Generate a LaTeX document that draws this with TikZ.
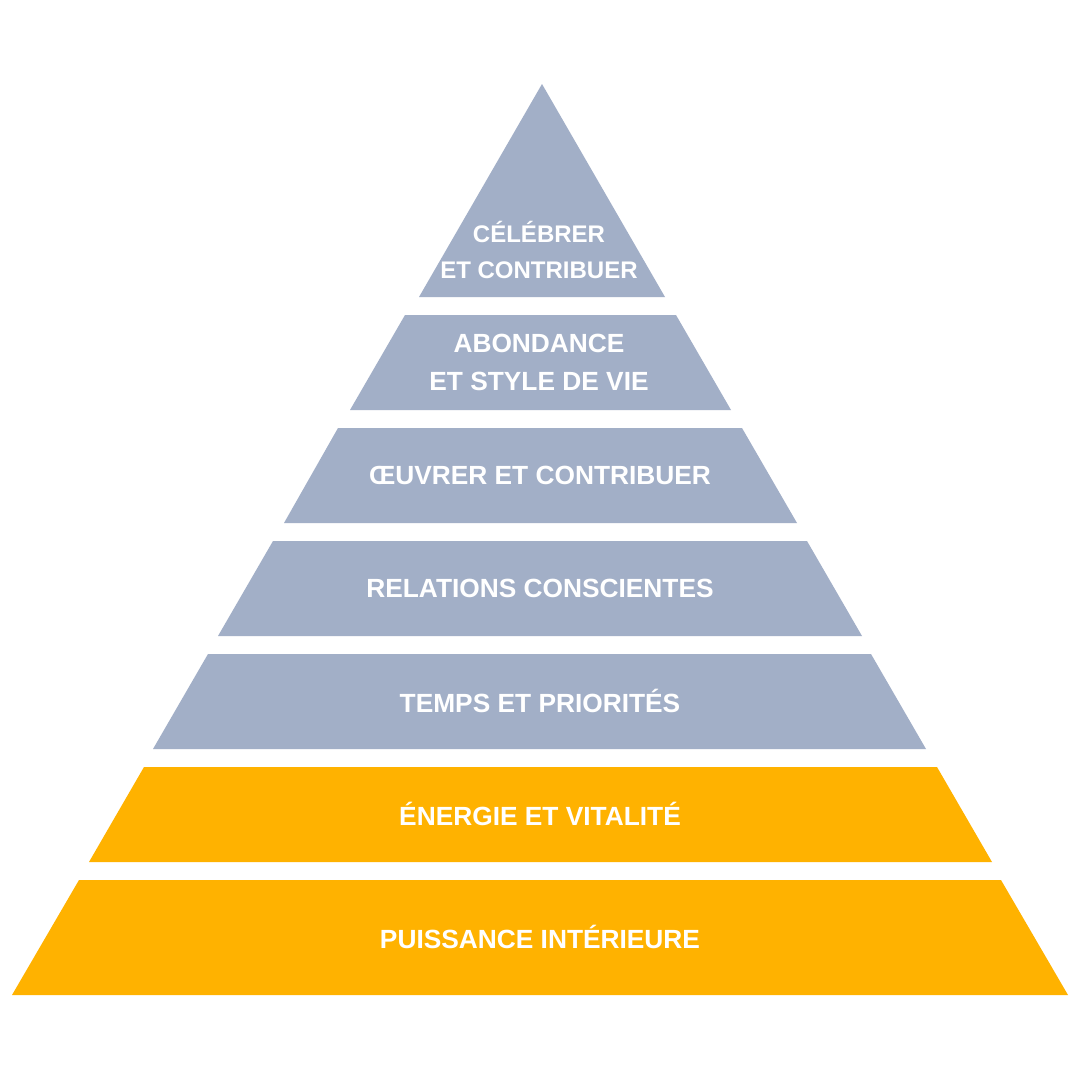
\documentclass[tikz,border=0pt]{standalone}
\usepackage{fontspec}
\setmainfont{Liberation Sans}
\definecolor{slate}{HTML}{A2AFC7}
\definecolor{amber}{HTML}{FFB200}
\begin{document}
\begin{tikzpicture}[x=1pt,y=-1pt,
  lbl/.style={text=white,font=\bfseries\fontsize{26.3}{38}\selectfont,align=center,inner sep=0pt},
  lbltop/.style={lbl,font=\bfseries\fontsize{24}{36}\selectfont}]
\useasboundingbox (0,0) rectangle (1080,1080);
\fill[white] (0,0) rectangle (1080,1080);
% layers
\fill[slate] (542,84) -- (665,297) -- (419,297) -- cycle;
\fill[slate] (405,315) -- (676,315) -- (731,410) -- (350,410) -- cycle;
\fill[slate] (338,428) -- (742,428) -- (797,523) -- (284,523) -- cycle;
\fill[slate] (273,541) -- (807,541) -- (862,636) -- (218,636) -- cycle;
\fill[slate] (208,654) -- (871,654) -- (926,749) -- (153,749) -- cycle;
\fill[amber] (144,767) -- (937,767) -- (992,862) -- (89,862) -- cycle;
\fill[amber] (79,880) -- (1001,880) -- (1068,995) -- (12,995) -- cycle;
% labels
\node[lbltop] (t1) at (539,250) {CÉLÉBRER\\ET CONTRIBUER};
\node[lbl] (t2) at (539,362) {ABONDANCE\\ET STYLE DE VIE};
\node[lbl] (t3) at (540,475) {ŒUVRER ET CONTRIBUER};
\node[lbl] (t4) at (540,588) {RELATIONS CONSCIENTES};
\node[lbl] (t5) at (540,701) {TEMPS ET PRIORITÉS};
\node[lbl] (t6) at (540,814) {ÉNERGIE ET VITALITÉ};
\node[lbl] (t7) at (540,937) {PUISSANCE INTÉRIEURE};
\end{tikzpicture}
\end{document}
